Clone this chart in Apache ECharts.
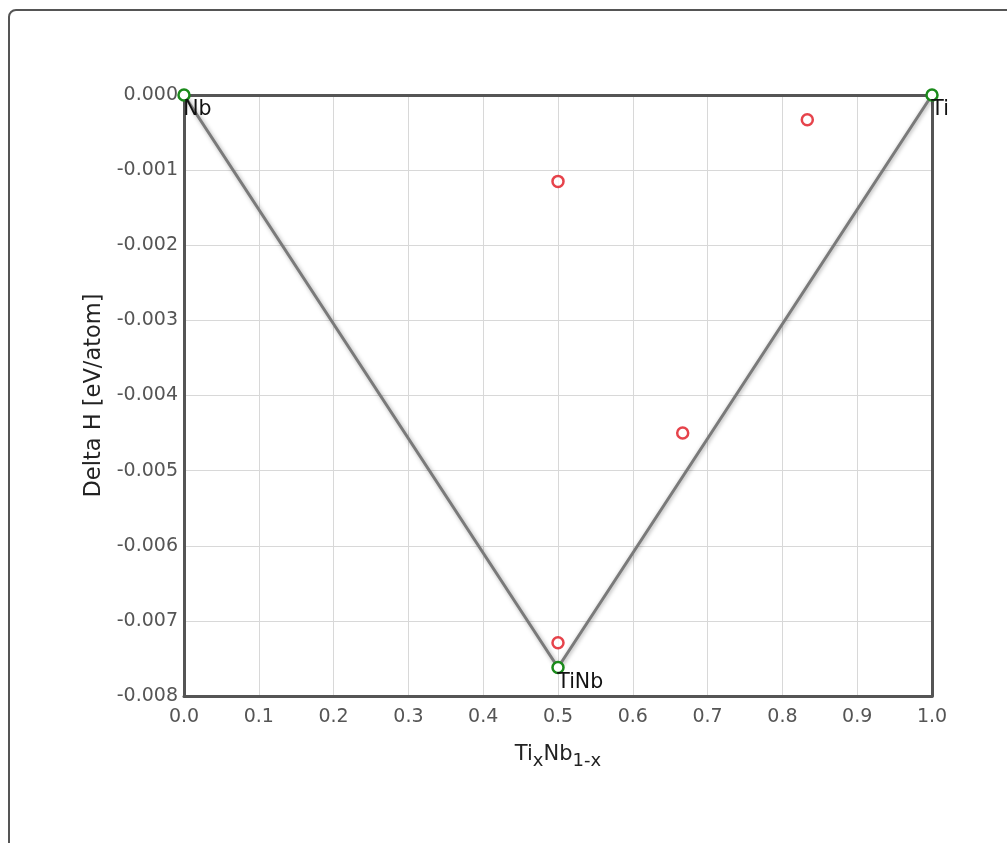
<!DOCTYPE html>
<html>
<head>
<meta charset="utf-8">
<script src="https://cdn.jsdelivr.net/npm/echarts@6/dist/echarts.min.js"></script>
<style>
  html, body { margin: 0; padding: 0; background: #fff; }
  #panel {
    position: absolute; left: 8px; top: 9px; width: 1100px; height: 900px;
    border: 2px solid #555; border-radius: 8px;
  }
  #main { position: absolute; left: 0; top: 0; width: 1007px; height: 843px; }
</style>
</head>
<body>
<div id="panel"></div>
<div id="main"></div>
<script>
// convex hull phases: [x, deltaH, name]
var hullX = [0, 0.5, 1];
var hullY = [0, -0.00762, 0];
var hullNames = ['Nb', 'TiNb', 'Ti'];

// other (off-hull) structures
var otherX = [0.5, 0.8333, 0.6667, 0.5];
var otherY = [-0.00115, -0.00033, -0.0045, -0.00729];

var hullData = hullX.map(function (x, i) { return { value: [x, hullY[i]], name: hullNames[i] }; });
var otherData = otherX.map(function (x, i) { return [x, otherY[i]]; });

var font = 'DejaVu Sans';
var frame = { show: true, onZero: false, lineStyle: { color: '#555', width: 3 } };

var myChart = echarts.init(document.getElementById('main'));
var option = {
    animation: false,
    grid: { left: 184, top: 95, right: 75, bottom: 147 },
    xAxis: [{
        type: 'value',
        min: 0,
        max: 1,
        interval: 0.1,
        position: 'bottom',
        axisLine: frame,
        axisTick: { show: false },
        splitLine: { lineStyle: { color: '#d8d8d8', width: 1 } },
        axisLabel: {
            color: '#555', fontSize: 19, fontFamily: font, margin: 12,
            formatter: function (v) { return v.toFixed(1); }
        },
        name: '{b|Ti}{s|x}{b|Nb}{s|1-x}',
        nameLocation: 'middle',
        nameGap: 44,
        nameTextStyle: {
            rich: {
                b: { fontSize: 21, color: '#222', fontFamily: font },
                s: { fontSize: 18, color: '#222', fontFamily: font, padding: [12, 0, 0, 0] }
            }
        }
    }, {
        type: 'value', min: 0, max: 1, position: 'top',
        axisLine: frame, axisTick: { show: false }, axisLabel: { show: false }, splitLine: { show: false }
    }],
    yAxis: [{
        type: 'value',
        min: -0.008,
        max: 0,
        interval: 0.001,
        position: 'left',
        axisLine: frame,
        axisTick: { show: false },
        splitLine: { lineStyle: { color: '#d8d8d8', width: 1 } },
        axisLabel: {
            color: '#555', fontSize: 19, fontFamily: font, margin: 6,
            formatter: function (v) { return v.toFixed(3); }
        },
        name: 'Delta H [eV/atom]',
        nameLocation: 'middle',
        nameGap: 77,
        nameTextStyle: { fontSize: 22.5, color: '#222', fontFamily: font }
    }, {
        type: 'value', min: -0.008, max: 0, position: 'right',
        axisLine: frame, axisTick: { show: false }, axisLabel: { show: false }, splitLine: { show: false }
    }],
    series: [
        {
            type: 'line',
            data: hullData,
            symbol: 'circle',
            symbolSize: 11,
            lineStyle: {
                color: '#7a7a7a', width: 3,
                shadowColor: 'rgba(0,0,0,0.35)', shadowBlur: 4, shadowOffsetX: 1, shadowOffsetY: 1
            },
            itemStyle: { color: '#fff', borderColor: '#1a8a1a', borderWidth: 2.5 },
            label: {
                show: true,
                position: [6, 11],
                formatter: '{b}',
                color: '#111',
                fontSize: 20.5,
                fontFamily: font
            },
            z: 3
        },
        {
            type: 'scatter',
            data: otherData,
            symbol: 'circle',
            symbolSize: 11,
            itemStyle: { color: '#fff', borderColor: '#e0141e', borderWidth: 2.5 },
            z: 4
        }
    ]
};
myChart.setOption(option);
</script>
</body>
</html>
